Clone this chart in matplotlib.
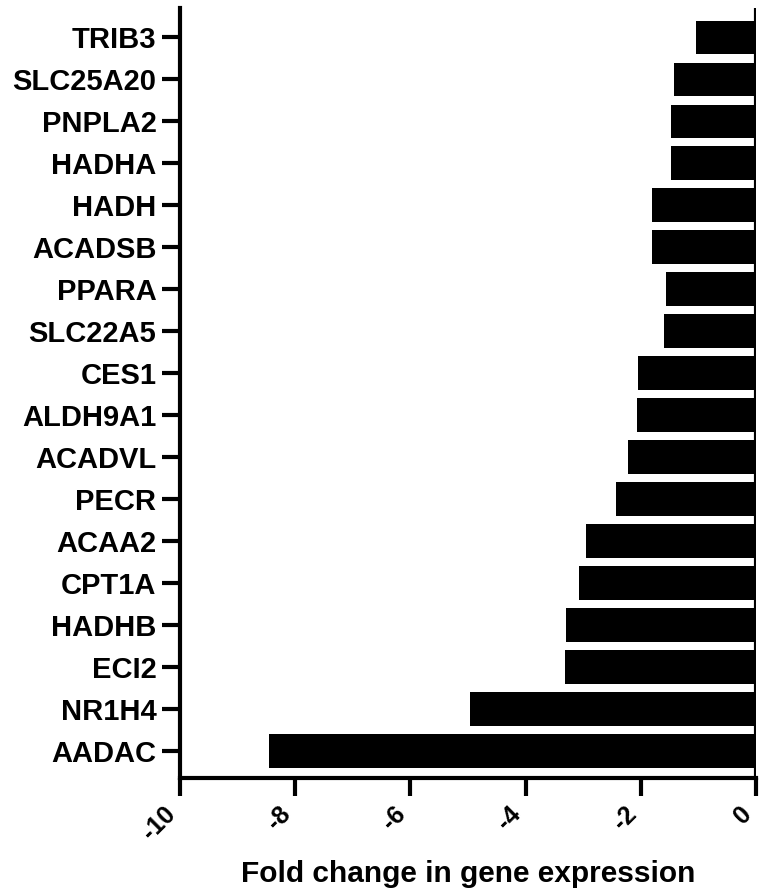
import matplotlib.pyplot as plt

genes = ["TRIB3", "SLC25A20", "PNPLA2", "HADHA", "HADH", "ACADSB", "PPARA",
         "SLC22A5", "CES1", "ALDH9A1", "ACADVL", "PECR", "ACAA2", "CPT1A",
         "HADHB", "ECI2", "NR1H4", "AADAC"]
fold_change = [-1.04, -1.43, -1.48, -1.48, -1.81, -1.81, -1.57, -1.60, -2.05,
               -2.07, -2.23, -2.43, -2.96, -3.08, -3.29, -3.32, -4.96, -8.45]
xticks = [-10, -8, -6, -4, -2, 0]

plt.rcParams['font.family'] = ['Liberation Sans', 'DejaVu Sans']
plt.rcParams['font.weight'] = 'bold'

fig = plt.figure(figsize=(7.62, 8.96), dpi=100)
ax = fig.add_axes([180 / 762, 1 - 778 / 896, 576 / 762, 770 / 896])

pos = list(range(len(genes)))[::-1]
ax.barh(pos, fold_change, height=0.8, color='black')
ax.axvline(0, color='black', lw=3)

ax.set_xlim(-10, 0)
ax.set_ylim(-0.65, len(genes) - 0.3)
ax.set_yticks(pos)
ax.set_yticklabels(genes, fontsize=21, fontweight='bold')
ax.set_xticks(xticks)
ax.set_xticklabels([str(t) for t in xticks], rotation=45, ha='right',
                   va='top', fontsize=18, fontweight='bold')
ax.set_xlabel('Fold change in gene expression', fontsize=21.5,
              fontweight='bold')
ax.xaxis.set_label_coords(0.5, -0.106)

for s in ['top', 'right']:
    ax.spines[s].set_visible(False)
for s in ['left', 'bottom']:
    ax.spines[s].set_linewidth(3)
ax.tick_params(width=3, length=13, pad=4)

fig.savefig('out.png', dpi=100)
